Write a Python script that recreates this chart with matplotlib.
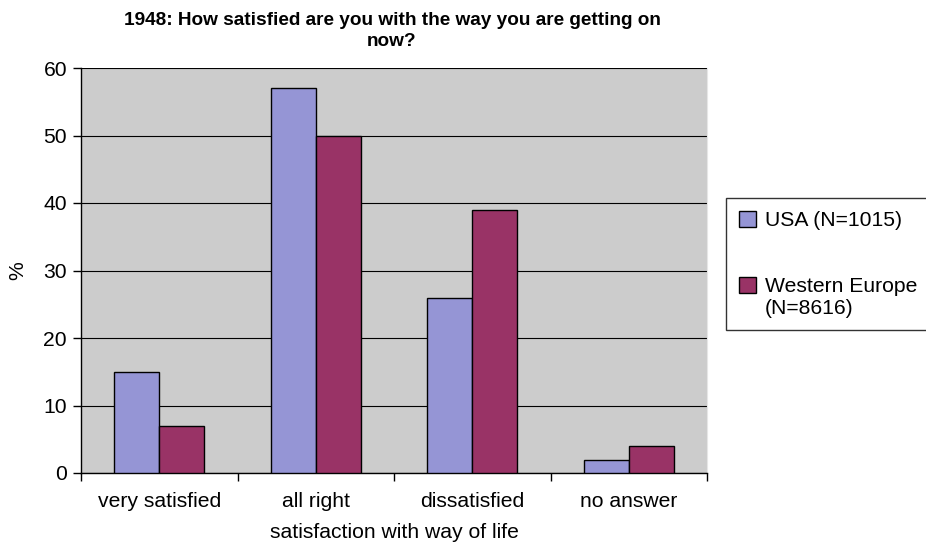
import matplotlib
matplotlib.use("Agg")
import matplotlib.pyplot as plt
import numpy as np

plt.rcParams['font.family'] = ['Liberation Sans', 'DejaVu Sans']

categories = ["very satisfied", "all right", "dissatisfied", "no answer"]
usa = [15, 57, 26, 2]
west_europe = [7, 50, 39, 4]
series_labels = ["USA (N=1015)", "Western Europe\n(N=8616)"]
title = "1948: How satisfied are you with the way you are getting on\nnow?"

fs = 15.2
fig = plt.figure(figsize=(9.26, 5.42), dpi=100)
ax = fig.add_axes([81/926, 1-473/542, (707-81)/926, (473-68)/542])
ax.set_facecolor("#cccccc")

x = np.arange(len(categories))
w = 0.288
b1 = ax.bar(x - w/2, usa, w, color="#9595d5", edgecolor="black", linewidth=1, zorder=3, label=series_labels[0])
b2 = ax.bar(x + w/2, west_europe, w, color="#993366", edgecolor="black", linewidth=1, zorder=3, label=series_labels[1])

ax.set_xlim(-0.5, len(categories) - 0.5)
ax.set_ylim(0, 60)
ax.set_yticks(range(0, 61, 10))
ax.yaxis.grid(True, color="black", linewidth=0.8, zorder=1)
ax.set_xticks(x)
ax.set_xticklabels(categories, fontsize=fs)
ax.tick_params(axis='x', length=0, pad=14)
ax.set_xticks(np.arange(-0.5, len(categories), 1), minor=True)
ax.tick_params(axis='x', which='minor', length=6, direction='out', width=1)
ax.tick_params(axis='y', labelsize=fs, length=6, width=1, direction='out', pad=4)
ax.spines["top"].set_visible(False)
ax.spines["right"].set_color("#e6e6e6")
ax.spines["left"].set_linewidth(1)
ax.spines["bottom"].set_linewidth(1)

ax.set_xlabel("satisfaction with way of life", fontsize=fs, labelpad=8)
ax.set_ylabel("%", fontsize=fs)
ax.yaxis.set_label_coords(-54/626, 0.5)
fig.text(392/926, 1-31/542, title, fontsize=13.7, fontweight="bold",
         ha="center", va="center", linespacing=1.3)

leg = fig.legend(handles=[b1, b2], labels=series_labels, loc="upper left",
                 bbox_to_anchor=(726/926, 1-198/542), fontsize=fs,
                 frameon=True, fancybox=False, edgecolor="black",
                 handlelength=0.8, handleheight=0.8, handletextpad=0.45,
                 labelspacing=2.2, borderpad=0.6, borderaxespad=0)
leg.get_frame().set_linewidth(1)
# align the second handle with the first line of its two-line label
h2 = leg.legend_handles[1]
h2.set_y(h2.get_y() + 8.5)

fig.savefig("out.png", dpi=100)
